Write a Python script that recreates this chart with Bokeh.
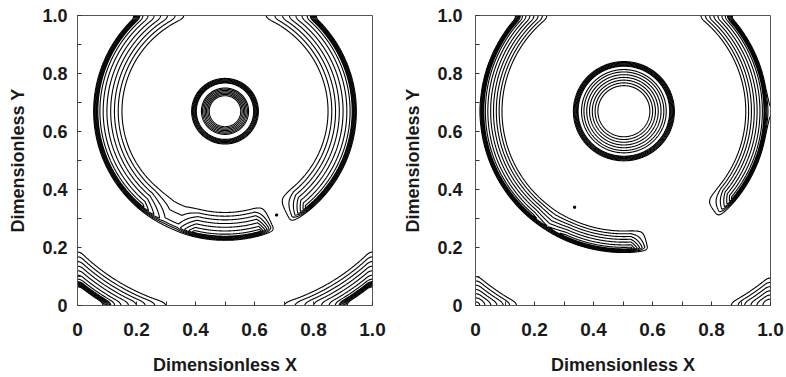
import numpy as np
from bokeh.plotting import figure
from bokeh.layouts import row
from bokeh.models import FixedTicker, Range1d
from bokeh.embed import file_html
from bokeh.resources import INLINE

# ---------------- data ----------------
TICKS = [0.0, 0.2, 0.4, 0.6, 0.8, 1.0]
TICK_LABELS = ["0", "0.2", "0.4", "0.6", "0.8", "1.0"]
MINOR_TICKS = [0.1, 0.3, 0.5, 0.7, 0.9]
X_LABEL = "Dimensionless X"
Y_LABEL = "Dimensionless Y"
LEVELS = [0.05, 0.2, 0.35, 0.5, 0.65, 0.8, 0.93]

# left panel: droplet, broken ring, corner arcs (radial profiles around one centre)
L_CENTER = [0.500, 0.670]
L_DROP_R = [0.052, 0.082, 0.096, 0.114]
L_DROP_P = [0.0, 1.0, 1.0, 0.0]
L_RING_R = [0.345, 0.430, 0.446]
L_RING_P = [0.0, 1.0, 0.0]
L_CORNER_R = [0.686, 0.764, 0.780]
L_CORNER_P = [0.0, 1.0, 0.0]
L_MASK_DEG = [-180.0, -131.0, -119.0, -112.0, -104.0, -74.0, -67.5, -60.0, -50.0, 180.0]
L_MASK_VAL = [1.0, 1.0, 0.4, 0.4, 1.0, 1.0, 0.0, 0.0, 1.0, 1.0]
L_SPECK_X = [0.675]
L_SPECK_Y = [0.312]

# right panel
R_CENTER = [0.503, 0.670]
R_DROP_R = [0.085, 0.148, 0.154, 0.172]
R_DROP_P = [0.0, 1.0, 1.0, 0.0]
R_RING_R = [0.410, 0.474, 0.488]
R_RING_P = [0.0, 1.0, 0.0]
R_CORNER_R = [0.750, 0.826, 0.842]
R_CORNER_P = [0.0, 1.0, 0.0]
R_MASK_DEG = [-180.0, -131.0, -123.0, -115.0, -87.0, -80.0, -49.0, -39.0, 180.0]
R_MASK_VAL = [1.0, 1.0, 0.8, 1.0, 1.0, 0.0, 0.0, 1.0, 1.0]
R_SPECK_X = [0.336]
R_SPECK_Y = [0.339]

FONT = "Liberation Sans"
N = 700
WALL = 0.02   # contours meet the walls at right angles within this distance


def wall_warp(u):
    d = WALL
    out = u.copy()
    lo = u < d
    out[lo] = d / 2 + u[lo] ** 2 / (2 * d)
    hi = (1.0 - u) < d
    out[hi] = 1.0 - (d / 2 + (1.0 - u[hi]) ** 2 / (2 * d))
    return out


def field(X, Y, c, drop_r, drop_p, ring_r, ring_p, corner_r, corner_p, mdeg, mval):
    X = wall_warp(X)
    Y = wall_warp(Y)
    R = np.hypot(X - c[0], Y - c[1])
    T = np.degrees(np.arctan2(Y - c[1], X - c[0]))
    drop = np.interp(R, drop_r, drop_p, left=0.0, right=0.0)
    ring = np.interp(R, ring_r, ring_p, left=0.0, right=0.0) * np.interp(T, mdeg, mval)
    corner = np.interp(R, corner_r, corner_p, left=0.0, right=0.0)
    return np.maximum(np.maximum(drop, ring), corner)


def make_panel(args, specks, left_b, right_b, ylab_standoff, xlab_standoff):
    xs = np.linspace(0.0, 1.0, N)
    ys = np.linspace(0.0, 1.0, N)
    X, Y = np.meshgrid(xs, ys)
    Z = field(X, Y, *args)

    p = figure(width=393, height=377, x_range=Range1d(0, 1), y_range=Range1d(0, 1),
               output_backend="svg", toolbar_location=None,
               min_border_left=left_b, min_border_right=right_b,
               min_border_top=15, min_border_bottom=68)
    p.contour(x=xs, y=ys, z=Z, levels=LEVELS, line_color="black", line_width=1.1,
              fill_color=None)
    p.scatter(x=specks[0], y=specks[1], size=2, marker="square", color="black")

    p.xgrid.visible = False
    p.ygrid.visible = False
    p.outline_line_color = "#555555"
    p.outline_line_width = 1
    p.background_fill_color = "white"
    p.border_fill_color = "white"

    for ax in (p.xaxis[0], p.yaxis[0]):
        ax.ticker = FixedTicker(ticks=TICKS, minor_ticks=MINOR_TICKS)
        ax.major_label_overrides = dict(zip(TICKS, TICK_LABELS))
        ax.major_tick_in = 4
        ax.major_tick_out = 0
        ax.minor_tick_in = 4
        ax.minor_tick_out = 0
        ax.axis_line_color = "#555555"
        ax.major_tick_line_color = "#333333"
        ax.minor_tick_line_color = "#333333"
        ax.major_label_text_font = FONT
        ax.major_label_text_font_style = "bold"
        ax.major_label_text_color = "#1a1a1a"
        ax.axis_label_text_font = FONT
        ax.axis_label_text_font_style = "bold"
        ax.axis_label_text_font_size = "18px"
        ax.axis_label_text_color = "#1a1a1a"

    p.xaxis.axis_label = X_LABEL
    p.yaxis.axis_label = Y_LABEL
    p.xaxis.major_label_text_font_size = "19px"
    p.yaxis.major_label_text_font_size = "18px"
    p.xaxis.major_label_standoff = 17
    p.xaxis.axis_label_standoff = xlab_standoff
    p.yaxis.major_label_standoff = ylab_standoff
    p.yaxis.axis_label_standoff = 11
    return p


left_args = (L_CENTER, L_DROP_R, L_DROP_P, L_RING_R, L_RING_P, L_CORNER_R, L_CORNER_P,
             L_MASK_DEG, L_MASK_VAL)
right_args = (R_CENTER, R_DROP_R, R_DROP_P, R_RING_R, R_RING_P, R_CORNER_R, R_CORNER_P,
              R_MASK_DEG, R_MASK_VAL)

p1 = make_panel(left_args, (L_SPECK_X, L_SPECK_Y), 77, 21, 10, 16)
p2 = make_panel(right_args, (R_SPECK_X, R_SPECK_Y), 82, 16, 13, 16)

layout = row(p1, p2)
open("out.html", "w").write(file_html(layout, INLINE, title="contours"))
